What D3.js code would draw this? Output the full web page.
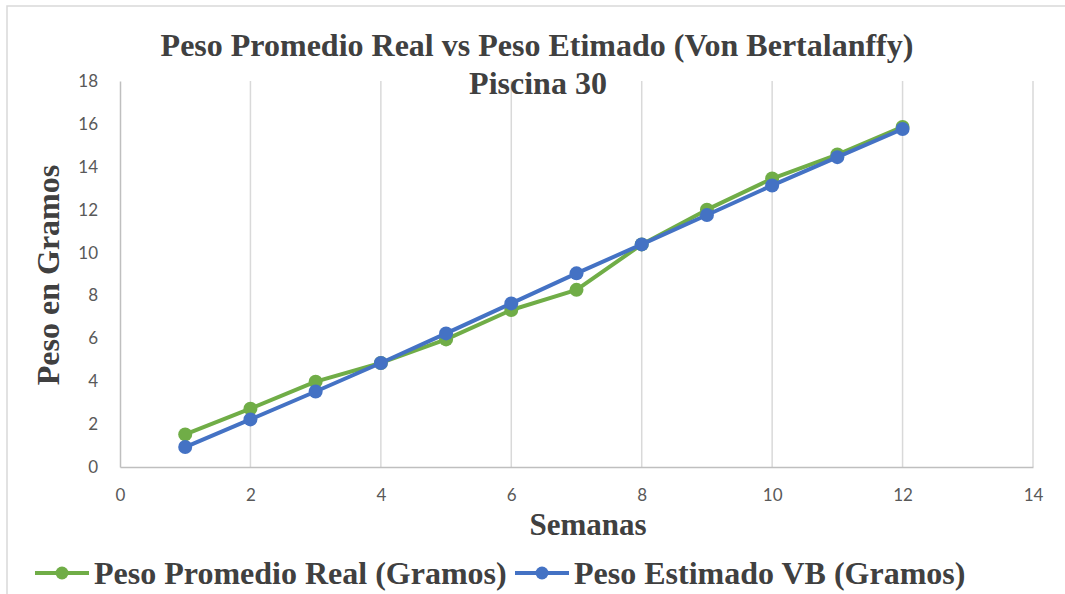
<!DOCTYPE html>
<html><head><meta charset="utf-8">
<script src="https://cdn.jsdelivr.net/npm/d3@7"></script>
<style>body{margin:0;background:#fff}svg{display:block}</style>
</head><body><svg id="c" width="1065" height="594"></svg>
<script>
const semanas = [1,2,3,4,5,6,7,8,9,10,11,12];
const pesoReal = [1.52,2.72,3.98,4.85,5.95,7.32,8.26,10.38,12.0,13.45,14.57,15.86];
const pesoVB = [0.93,2.22,3.52,4.85,6.23,7.63,9.03,10.38,11.75,13.13,14.45,15.76];
const xTicks = [0,2,4,6,8,10,12,14];
const yTicks = [0,2,4,6,8,10,12,14,16,18];
const titleLines = ["Peso Promedio Real vs Peso Etimado (Von Bertalanffy)","Piscina 30"];
const xTitle = "Semanas", yTitle = "Peso en Gramos";
const seriesNames = ["Peso Promedio Real (Gramos)","Peso Estimado VB (Gramos)"];
const colors = ["#70AD47","#4472C4"];

const svg = d3.select("#c");
const serif = "'Liberation Serif','Times New Roman',serif";
const sans = "Lato, 'Open Sans', sans-serif";
svg.append("rect").attr("x",7).attr("y",6).attr("width",1070).attr("height",600)
  .attr("fill","#fff").attr("stroke","#d9d9d9").attr("stroke-width",1.5);

const x = d3.scaleLinear().domain([0,14]).range([120,1033]);
const y = d3.scaleLinear().domain([0,18]).range([467,81]);

svg.append("g").selectAll("line").data(xTicks.filter(d=>d>0)).join("line")
  .attr("x1",d=>x(d)).attr("x2",d=>x(d)).attr("y1",y(18)).attr("y2",y(0))
  .attr("stroke","#d9d9d9").attr("stroke-width",1.5);

const xa = svg.append("g").attr("transform",`translate(0,${y(0)})`)
  .call(d3.axisBottom(x).tickValues(xTicks).tickSize(0).tickPadding(22));
const ya = svg.append("g").attr("transform",`translate(${x(0)},0)`)
  .call(d3.axisLeft(y).tickValues(yTicks).tickSize(0).tickPadding(22));
[xa,ya].forEach(a=>{
  a.select(".domain").attr("stroke","#bfbfbf").attr("stroke-width",1.5);
  a.selectAll("text").attr("fill","#595959").style("font-family",sans).style("font-size","17px");
});

const data = [pesoReal,pesoVB];
const line = d3.line().x((d,i)=>x(semanas[i])).y(d=>y(d));
data.forEach((s,k)=>{
  svg.append("path").datum(s).attr("d",line).attr("fill","none")
    .attr("stroke",colors[k]).attr("stroke-width",4).attr("stroke-linejoin","round");
  svg.append("g").selectAll("circle").data(s).join("circle")
    .attr("cx",(d,i)=>x(semanas[i])).attr("cy",d=>y(d)).attr("r",7).attr("fill",colors[k]);
});

const tcol = "#404040";
function t(xp,yp,txt,size,anchor){
  return svg.append("text").attr("x",xp).attr("y",yp).attr("text-anchor",anchor||"middle")
    .style("font-family",serif).style("font-weight","bold").style("font-size",size+"px").attr("fill",tcol).text(txt);
}
t(537,56,titleLines[0],32);
t(538,94,titleLines[1],32);
t(588,535,xTitle,31);
svg.append("text").attr("transform","translate(59,275) rotate(-90)").attr("text-anchor","middle")
  .style("font-family",serif).style("font-weight","bold").style("font-size","32px").attr("fill",tcol).text(yTitle);

const legX = [35,515];
seriesNames.forEach((n,k)=>{
  const g = svg.append("g").attr("transform",`translate(${legX[k]},573)`);
  g.append("line").attr("x1",0).attr("x2",54).attr("stroke",colors[k]).attr("stroke-width",4);
  g.append("circle").attr("cx",27).attr("r",6.5).attr("fill",colors[k]);
  g.append("text").attr("x",59).attr("y",11).style("font-family",serif).style("font-weight","bold")
    .style("font-size","32px").attr("fill",tcol).text(n);
});
</script></body></html>
